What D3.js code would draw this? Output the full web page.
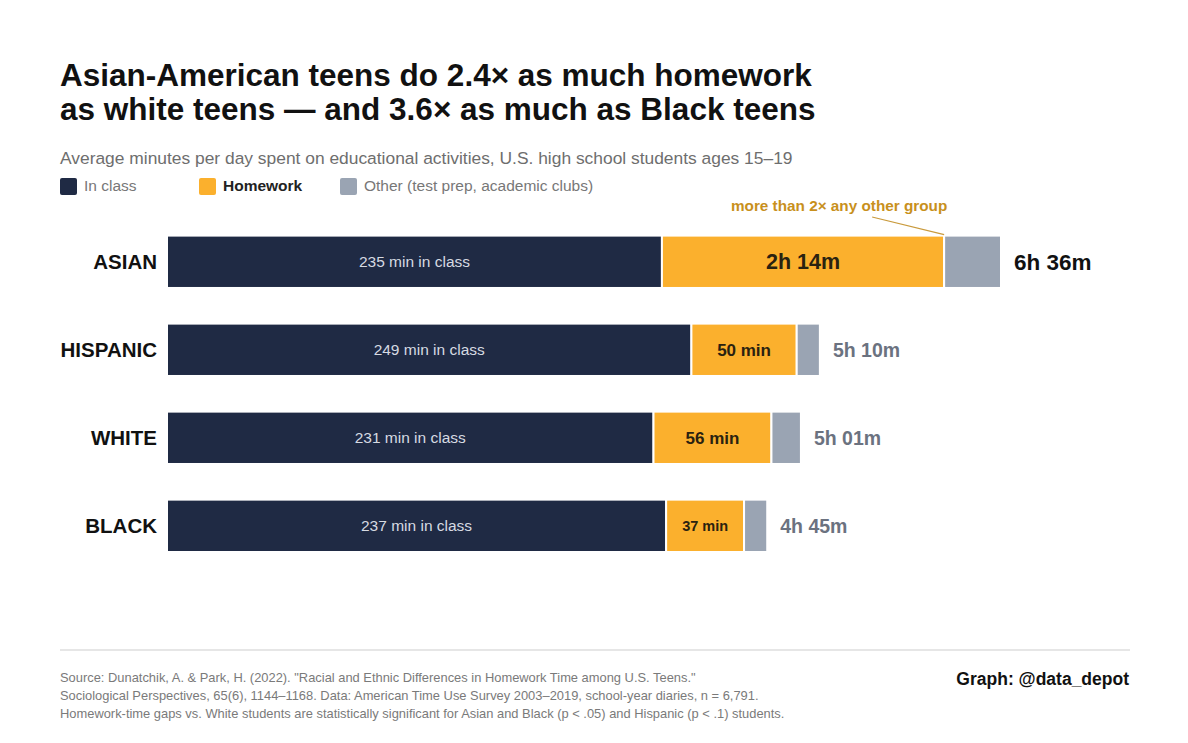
<!DOCTYPE html>
<html>
<head>
<meta charset="utf-8">
<script src="https://cdn.jsdelivr.net/npm/d3@7"></script>
<style>
  body { margin: 0; background: #fff; }
  svg { font-family: "Liberation Sans", Arial, sans-serif; }
</style>
</head>
<body>
<div id="chart"></div>
<script>
// data, minutes per day
const groups = ["ASIAN", "HISPANIC", "WHITE", "BLACK"];
const inClass = [235, 249, 231, 237];
const homework = [134, 50, 56, 37];
const other = [27, 11, 14, 11];
const homeworkLabels = ["2h 14m", "50 min", "56 min", "37 min"];
const totalLabels = ["6h 36m", "5h 10m", "5h 01m", "4h 45m"];
const legendItems = ["In class", "Homework", "Other (test prep, academic clubs)"];

const W = 1188, H = 743;
const colors = { cls: "#1f2a44", hw: "#fbb02d", oth: "#9aa4b3" };

const svg = d3.select("#chart")
    .append("svg")
    .attr("width", W)
    .attr("height", H);

// title + subtitle
svg.append("text")
    .attr("x", 60).attr("y", 86)
    .style("font-size", "31.5px").style("font-weight", "bold").attr("fill", "#111")
    .text("Asian-American teens do 2.4× as much homework");
svg.append("text")
    .attr("x", 60).attr("y", 120)
    .style("font-size", "31.5px").style("font-weight", "bold").attr("fill", "#111")
    .text("as white teens — and 3.6× as much as Black teens");
svg.append("text")
    .attr("x", 60).attr("y", 164)
    .style("font-size", "17.4px").attr("fill", "#6e6e6e")
    .text("Average minutes per day spent on educational activities, U.S. high school students ages 15–19");

// legend
const legendX = [60, 199, 340];
const legendCol = [colors.cls, colors.hw, colors.oth];
const lg = svg.selectAll(".legend")
    .data(legendItems)
    .enter()
    .append("g")
    .attr("class", "legend")
    .attr("transform", (d, i) => `translate(${legendX[i]}, 178)`);
lg.append("rect")
    .attr("width", 17).attr("height", 17).attr("rx", 2)
    .attr("fill", (d, i) => legendCol[i]);
lg.append("text")
    .attr("x", 24).attr("y", 13)
    .style("font-size", "15.5px")
    .style("font-weight", (d, i) => i === 1 ? "bold" : "normal")
    .attr("fill", (d, i) => i === 1 ? "#222" : "#777")
    .text(d => d);

// scales
const totals = groups.map((g, i) => inClass[i] + homework[i] + other[i]);
const x = d3.scaleLinear()
    .domain([0, d3.max(totals)])
    .range([167, 1001]);
const y = d3.scaleBand()
    .domain(groups)
    .range([218, 569.6])
    .paddingInner(0.405)
    .paddingOuter(0.2);

const rows = groups.map((g, i) => ({
    g, i,
    segs: [
        { key: "cls", x0: 0, x1: inClass[i] },
        { key: "hw", x0: inClass[i], x1: inClass[i] + homework[i] },
        { key: "oth", x0: inClass[i] + homework[i], x1: totals[i] }
    ]
}));

const row = svg.selectAll(".row")
    .data(rows)
    .enter()
    .append("g")
    .attr("class", "row");

row.selectAll("rect")
    .data(d => d.segs.map(s => ({ ...s, g: d.g })))
    .enter()
    .append("rect")
    .attr("x", s => x(s.x0))
    .attr("y", s => y(s.g))
    .attr("width", s => x(s.x1) - x(s.x0))
    .attr("height", y.bandwidth())
    .attr("fill", s => colors[s.key])
    .attr("stroke", "#fff")
    .attr("stroke-width", 2);

// category labels
row.append("text")
    .attr("x", 157)
    .attr("y", d => y(d.g) + y.bandwidth() / 2)
    .attr("dy", "0.35em")
    .attr("text-anchor", "end")
    .style("font-size", "20.5px").style("font-weight", "bold").attr("fill", "#111")
    .text(d => d.g);

// in-class labels
row.append("text")
    .attr("x", d => (x(0) + x(inClass[d.i])) / 2)
    .attr("y", d => y(d.g) + y.bandwidth() / 2)
    .attr("dy", "0.35em")
    .attr("text-anchor", "middle")
    .style("font-size", "15.5px").attr("fill", "#d6dae2")
    .text(d => inClass[d.i] + " min in class");

// homework labels
const hwSize = [21.5, 17, 17, 14.5];
row.append("text")
    .attr("x", d => (x(inClass[d.i]) + x(inClass[d.i] + homework[d.i])) / 2)
    .attr("y", d => y(d.g) + y.bandwidth() / 2)
    .attr("dy", "0.35em")
    .attr("text-anchor", "middle")
    .style("font-size", d => hwSize[d.i] + "px").style("font-weight", "bold").attr("fill", "#2a2210")
    .text(d => homeworkLabels[d.i]);

// totals
row.append("text")
    .attr("x", d => x(totals[d.i]) + 13)
    .attr("y", d => y(d.g) + y.bandwidth() / 2)
    .attr("dy", "0.35em")
    .style("font-size", d => d.i === 0 ? "22.5px" : "19.5px")
    .style("font-weight", "bold")
    .attr("fill", d => d.i === 0 ? "#111" : "#6b7280")
    .text(d => totalLabels[d.i]);

// annotation on asian homework
const annX = x(inClass[0] + homework[0]);
svg.append("line")
    .attr("x1", annX - 72).attr("y1", 217)
    .attr("x2", annX).attr("y2", y("ASIAN") - 1)
    .attr("stroke", "#c99a3c").attr("stroke-width", 1.2);
svg.append("text")
    .attr("x", annX - 105).attr("y", 211)
    .attr("text-anchor", "middle")
    .style("font-size", "15.3px").style("font-weight", "bold").attr("fill", "#c8901c")
    .text("more than 2× any other group");

// footer
svg.append("line")
    .attr("x1", 60).attr("x2", 1130)
    .attr("y1", 650).attr("y2", 650)
    .attr("stroke", "#e6e6e6").attr("stroke-width", 2);

const footLines = [
    "Source: Dunatchik, A. & Park, H. (2022). \"Racial and Ethnic Differences in Homework Time among U.S. Teens.\"",
    "Sociological Perspectives, 65(6), 1144–1168. Data: American Time Use Survey 2003–2019, school-year diaries, n = 6,791.",
    "Homework-time gaps vs. White students are statistically significant for Asian and Black (p < .05) and Hispanic (p < .1) students."
];
svg.selectAll(".foot")
    .data(footLines)
    .enter()
    .append("text")
    .attr("class", "foot")
    .attr("x", 60)
    .attr("y", (d, i) => 682 + i * 18)
    .style("font-size", "12.9px").attr("fill", "#7a7a7a")
    .text(d => d);

svg.append("text")
    .attr("x", 1129).attr("y", 685)
    .attr("text-anchor", "end")
    .style("font-size", "17.5px").style("font-weight", "bold").attr("fill", "#111")
    .text("Graph: @data_depot");
</script>
</body>
</html>
